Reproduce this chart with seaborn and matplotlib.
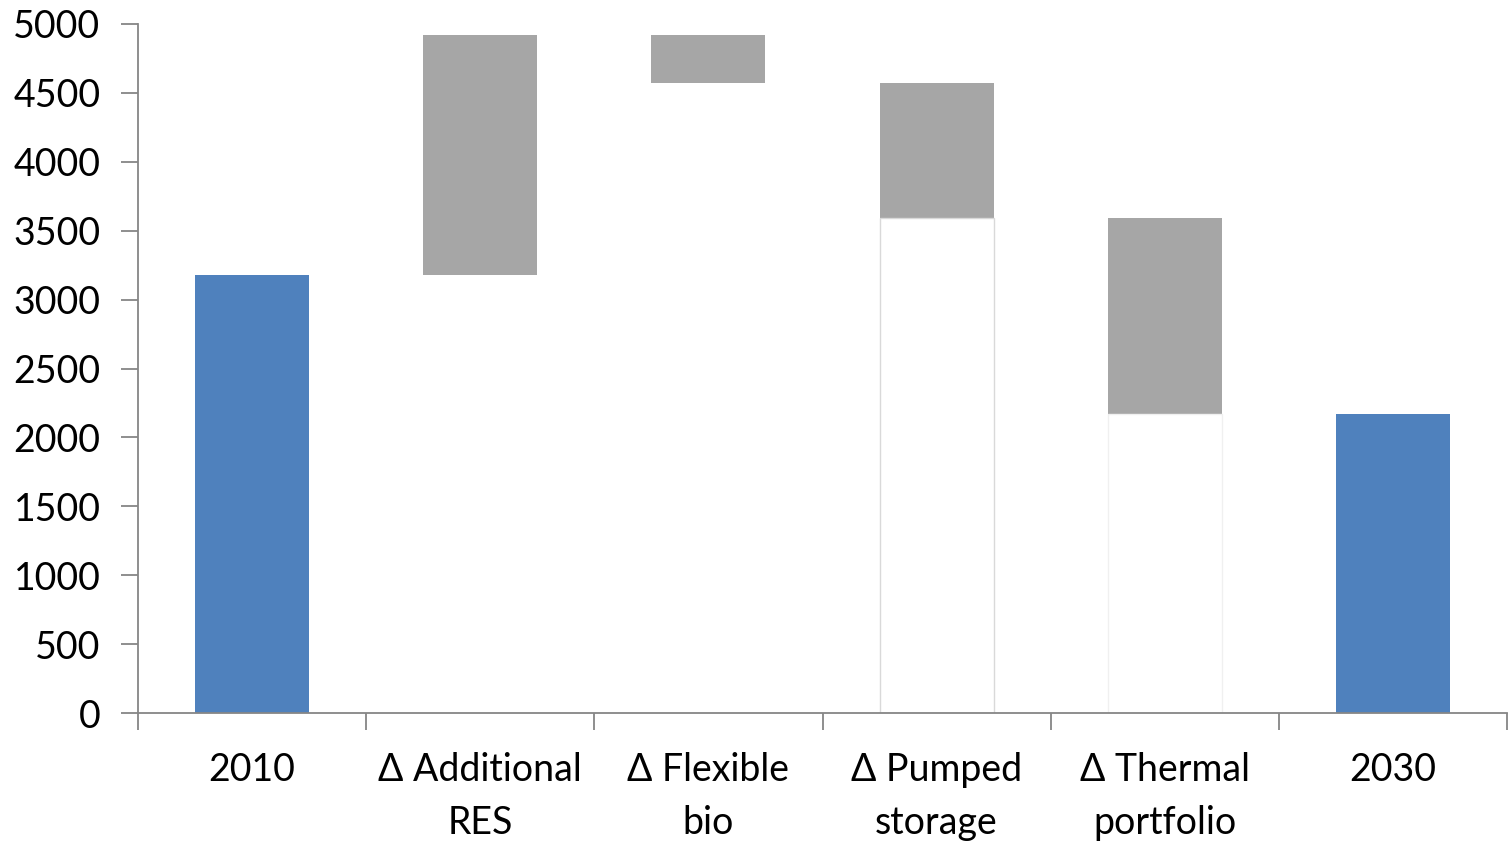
import matplotlib
matplotlib.use("Agg")
import matplotlib.pyplot as plt
import seaborn as sns
import numpy as np
from matplotlib.ticker import FixedLocator

# Waterfall steps: starting level, changes, final level
categories = ["2010", "Δ Additional\nRES", "Δ Flexible\nbio", "Δ Pumped\nstorage",
              "Δ Thermal\nportfolio", "2030"]
start_value = 3180
changes = [1740, -345, -985, -1420]
end_value = 2170
y_ticks = list(range(0, 5001, 500))

# Cumulative levels for each floating bar
levels = [start_value]
for c in changes:
    levels.append(levels[-1] + c)
tops = [start_value] + [max(levels[i], levels[i + 1]) for i in range(len(changes))] + [end_value]
bases = [0] + [min(levels[i], levels[i + 1]) for i in range(len(changes))] + [0]

blue = "#4f81bd"
grey = "#a6a6a6"
bar_colors = [blue, grey, grey, grey, grey, blue]
axis_grey = "#868686"

sns.set_theme(style="white")
plt.rcParams["font.family"] = ["Lato", "DejaVu Sans"]

fig = plt.figure(figsize=(15.09, 8.44), dpi=100)
ax = fig.add_axes([138 / 1509, 1 - 713 / 844, (1507 - 138) / 1509, (713 - 24) / 844])

# Full-height bars, then white bases on top to leave only the floating parts
sns.barplot(x=categories, y=tops, hue=categories, palette=bar_colors,
            legend=False, width=0.5, saturation=1, linewidth=0, ax=ax)
sns.barplot(x=categories, y=bases, color="white", width=0.5, saturation=1,
            linewidth=0, ax=ax)

base_edges = [None, None, None, "#d9d9d9", "#f0f0f0", None]
base_patches = ax.patches[len(categories):]
for patch, edge in zip(base_patches, base_edges):
    if edge is not None:
        patch.set_edgecolor(edge)
        patch.set_linewidth(1.0)

ax.set_ylim(0, 5000)
ax.set_xlim(-0.5, len(categories) - 0.5)
ax.set_yticks(y_ticks)
ax.set_yticklabels([str(v) for v in y_ticks])
ax.set_xlabel("")
ax.set_ylabel("")

# Category labels centred, tick marks on slot boundaries
ax.xaxis.set_minor_locator(FixedLocator(np.arange(-0.5, len(categories), 1.0)))
ax.tick_params(axis="x", which="major", length=0, pad=28, labelsize=27,
               labelcolor="black")
ax.tick_params(axis="x", which="minor", length=12, width=1.3, color=axis_grey,
               direction="out", bottom=True)
ax.tick_params(axis="y", which="major", length=12, width=1.3, color=axis_grey,
               direction="out", left=True, pad=15, labelsize=27, labelcolor="black")
for lbl in ax.get_xticklabels():
    lbl.set_linespacing(1.6)

for side in ["top", "right"]:
    ax.spines[side].set_visible(False)
for side in ["left", "bottom"]:
    ax.spines[side].set_color(axis_grey)
    ax.spines[side].set_linewidth(1.3)

fig.savefig("out.png", dpi=100, facecolor="white")
